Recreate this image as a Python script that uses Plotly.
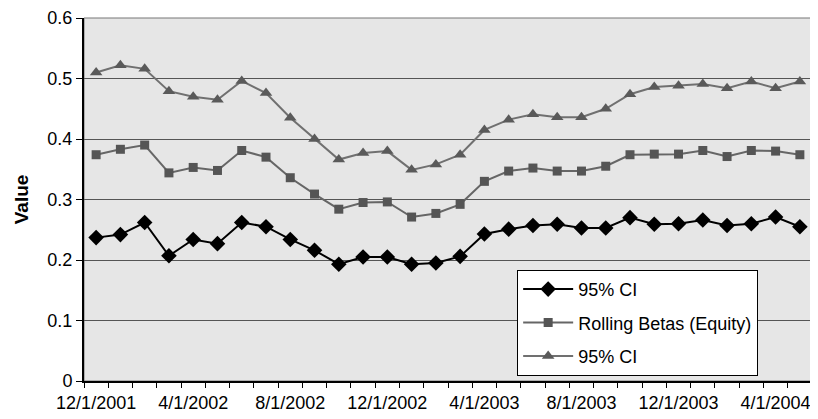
import plotly.graph_objects as go

dates = ["12/1/2001", "1/1/2002", "2/1/2002", "3/1/2002", "4/1/2002", "5/1/2002",
         "6/1/2002", "7/1/2002", "8/1/2002", "9/1/2002", "10/1/2002", "11/1/2002",
         "12/1/2002", "1/1/2003", "2/1/2003", "3/1/2003", "4/1/2003", "5/1/2003",
         "6/1/2003", "7/1/2003", "8/1/2003", "9/1/2003", "10/1/2003", "11/1/2003",
         "12/1/2003", "1/1/2004", "2/1/2004", "3/1/2004", "4/1/2004", "5/1/2004"]

ci_lower = [0.237, 0.242, 0.262, 0.207, 0.234, 0.227, 0.262, 0.255, 0.234, 0.216,
            0.193, 0.205, 0.205, 0.193, 0.195, 0.206, 0.243, 0.251, 0.257, 0.259,
            0.253, 0.253, 0.270, 0.259, 0.260, 0.266, 0.257, 0.260, 0.271, 0.255]

rolling_betas = [0.374, 0.383, 0.390, 0.344, 0.353, 0.348, 0.381, 0.370, 0.336, 0.309,
                 0.284, 0.295, 0.296, 0.271, 0.277, 0.292, 0.330, 0.347, 0.352, 0.347,
                 0.347, 0.355, 0.374, 0.375, 0.375, 0.381, 0.371, 0.381, 0.380, 0.374]

ci_upper = [0.510, 0.522, 0.516, 0.479, 0.470, 0.465, 0.496, 0.476, 0.435, 0.400,
            0.366, 0.377, 0.380, 0.349, 0.358, 0.374, 0.415, 0.432, 0.441, 0.436,
            0.436, 0.450, 0.474, 0.486, 0.488, 0.491, 0.484, 0.495, 0.484, 0.495]

tick_labels = ["12/1/2001", "4/1/2002", "8/1/2002", "12/1/2002",
               "4/1/2003", "8/1/2003", "12/1/2003", "4/1/2004"]

y_ticks = [0, 0.1, 0.2, 0.3, 0.4, 0.5, 0.6]
y_tick_text = ["0", "0.1", "0.2", "0.3", "0.4", "0.5", "0.6"]

FONT = "Arial, Liberation Sans, sans-serif"

fig = go.Figure()
fig.add_trace(go.Scatter(x=dates, y=ci_lower, name="95% CI", mode="lines+markers",
                         legendgroup="a",
                         line=dict(color="#000000", width=2),
                         marker=dict(symbol="diamond", size=12, color="#000000")))
fig.add_trace(go.Scatter(x=dates, y=rolling_betas, name="Rolling Betas (Equity)", mode="lines+markers",
                         legendgroup="b",
                         line=dict(color="#666666", width=2),
                         marker=dict(symbol="square", size=9, color="#555555")))
fig.add_trace(go.Scatter(x=dates, y=ci_upper, name="95% CI", mode="lines+markers",
                         legendgroup="c",
                         line=dict(color="#707070", width=2),
                         marker=dict(symbol="triangle-up", size=11, color="#5a5a5a")))

fig.update_layout(
    width=810, height=411,
    margin=dict(l=76, r=6, t=10, b=38, autoexpand=False),
    paper_bgcolor="white",
    plot_bgcolor="#e6e6e6",
    font=dict(family=FONT, size=18, color="#000000"),
    showlegend=True,
    legend=dict(x=0.595, y=0.306, xanchor="left", yanchor="top",
                bgcolor="white", bordercolor="#000000", borderwidth=1,
                font=dict(size=18, family=FONT), tracegroupgap=7,
                traceorder="grouped", itemwidth=50),
    xaxis=dict(type="category", tickmode="array", tickvals=dates,
               ticktext=[d if d in tick_labels else "" for d in dates],
               tickson="boundaries", ticks="outside", ticklen=5, tickcolor="#000000",
               tickwidth=1, ticklabelstandoff=4, automargin=False,
               showgrid=False, showline=True, linecolor="#000000", linewidth=2,
               range=[-0.5, len(dates) - 0.5], tickangle=0,
               tickfont=dict(size=18, family=FONT)),
    yaxis=dict(range=[0, 0.6], tickmode="array", tickvals=y_ticks, ticktext=y_tick_text,
               ticks="outside", ticklen=6, automargin=False,
               tickcolor="#000000", showline=True, linecolor="#000000", linewidth=2,
               showgrid=True, gridcolor="#555555", gridwidth=1, zeroline=False,
               title=dict(text="<b>Value</b>", font=dict(size=19, family=FONT), standoff=14),
               tickfont=dict(size=18, family=FONT)),
    shapes=[dict(type="rect", xref="paper", yref="paper", x0=0, x1=1, y0=0, y1=1,
                 line=dict(color="#777777", width=1), layer="below")],
)

fig.write_html("out.html")
